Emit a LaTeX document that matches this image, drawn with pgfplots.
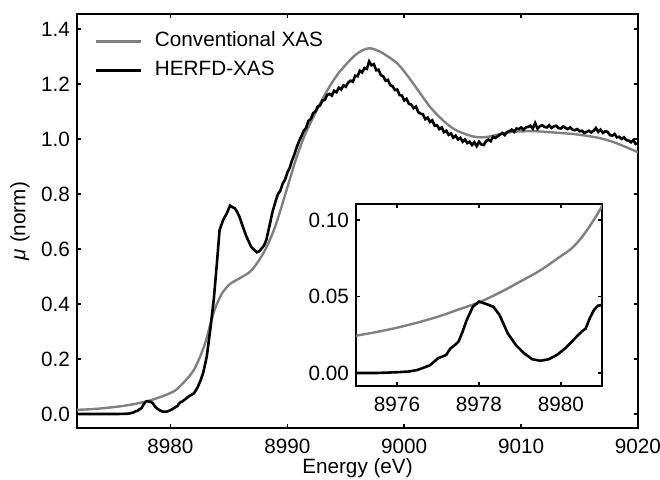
\documentclass[border=0pt]{standalone}
\usepackage{fontspec}
\setmainfont{Liberation Sans}
\usepackage{pgfplots}
\usepackage{pgfplotstable}
\pgfplotsset{compat=1.18}
\definecolor{convgray}{RGB}{128,128,128}

\pgfplotstableread{
E mu
8972.0 0.0150
8973.0 0.0170
8974.0 0.0200
8975.0 0.0244
8975.5 0.0268
8976.0 0.0296
8976.5 0.0330
8977.0 0.0368
8977.5 0.0415
8978.0 0.0462
8978.5 0.0525
8979.0 0.0597
8979.5 0.0672
8980.0 0.0765
8980.25 0.0812
8980.5 0.0885
8980.75 0.0980
8981.0 0.1090
8981.5 0.1320
8982.0 0.1600
8982.5 0.2050
8983.0 0.2620
8983.4 0.3250
8983.8 0.3820
8984.4 0.4380
8985.1 0.4730
8985.9 0.4930
8986.8 0.5170
8987.5 0.5540
8988.2 0.6050
8988.9 0.6750
8989.4 0.7400
8989.9 0.8100
8990.4 0.8800
8990.8 0.9350
8991.5 1.0150
8992.2 1.0780
8993.0 1.1450
8993.6 1.1900
8994.3 1.2350
8995.1 1.2750
8995.8 1.3050
8996.5 1.3240
8997.1 1.3300
8997.9 1.3180
8998.6 1.3000
8999.4 1.2750
9000.1 1.2400
9000.8 1.2000
9001.5 1.1580
9002.2 1.1170
9002.9 1.0850
9003.6 1.0570
9004.3 1.0350
9005.1 1.0200
9005.8 1.0100
9006.5 1.0060
9007.2 1.0080
9007.9 1.0150
9008.7 1.0220
9009.6 1.0270
9011.3 1.0280
9013.0 1.0230
9014.7 1.0170
9016.4 1.0060
9017.3 0.9970
9018.2 0.9840
9019.0 0.9700
9020.0 0.9520
}\conv

\pgfplotstableread{
E mu
8972.0 0.0000
8973.0 0.0000
8974.0 0.0000
8975.0 0.0000
8975.5 0.0000
8976.0 0.0005
8976.3 0.0010
8976.5 0.0020
8976.8 0.0050
8977.0 0.0096
8977.2 0.0118
8977.3 0.0160
8977.4 0.0180
8977.5 0.0205
8977.6 0.0270
8977.7 0.0346
8977.85 0.0433
8978.0 0.0467
8978.2 0.0449
8978.35 0.0433
8978.5 0.0380
8978.7 0.0260
8978.9 0.0183
8979.1 0.0129
8979.3 0.0090
8979.5 0.0080
8979.7 0.0090
8979.9 0.0118
8980.1 0.0160
8980.3 0.0215
8980.5 0.0270
8980.6 0.0290
8980.7 0.0357
8980.8 0.0410
8980.9 0.0440
8981.0 0.0444
8981.05 0.0470
8981.3 0.0550
8981.6 0.0650
8982.0 0.0750
8982.3 0.0950
8982.6 0.1250
8982.8 0.1500
8983.1 0.2080
8983.4 0.3050
8983.7 0.4150
8983.97 0.5480
8984.2 0.6690
8984.5 0.7050
8984.8 0.7280
8985.1 0.7580
8985.3 0.7520
8985.5 0.7480
8985.7 0.7350
8985.9 0.7170
8986.2 0.6800
8986.5 0.6450
8986.9 0.6080
8987.2 0.5950
8987.4 0.5880
8987.6 0.5920
8987.8 0.6020
8988.0 0.6120
8988.2 0.6330
8988.5 0.6900
8988.7 0.7300
8989.0 0.7750
8989.2 0.8000
8989.4 0.8120
8989.6 0.8380
8989.8 0.8520
8990.0 0.8780
8990.2 0.8950
8990.4 0.9220
8990.6 0.9440
8990.8 0.9700
8991.0 0.9920
8991.2 1.0100
8991.4 1.0300
8991.6 1.0400
8991.8 1.0660
8992.0 1.0720
8992.2 1.0940
8992.4 1.1000
8992.6 1.1180
8992.8 1.1220
8993.0 1.1400
8993.2 1.1420
8993.4 1.1600
8993.6 1.1640
8993.8 1.1580
8994.0 1.1750
8994.2 1.1700
8994.4 1.1870
8994.6 1.1800
8994.8 1.1950
8995.0 1.1900
8995.2 1.2050
8995.4 1.2120
8995.6 1.2080
8995.8 1.2300
8996.0 1.2280
8996.2 1.2480
8996.4 1.2420
8996.6 1.2580
8996.8 1.2550
8997.0 1.2820
8997.2 1.2680
8997.4 1.2720
8997.6 1.2500
8997.8 1.2520
8998.0 1.2320
8998.2 1.2280
8998.4 1.2120
8998.6 1.2150
8998.8 1.1960
8999.0 1.1920
8999.2 1.1780
8999.4 1.1800
8999.6 1.1600
8999.8 1.1580
9000.0 1.1400
9000.2 1.1460
9000.4 1.1280
9000.6 1.1250
9000.8 1.1120
9001.0 1.1180
9001.2 1.0980
9001.4 1.0920
9001.6 1.0900
9001.8 1.0720
9002.0 1.0780
9002.2 1.0620
9002.4 1.0680
9002.6 1.0480
9002.8 1.0500
9003.0 1.0360
9003.2 1.0420
9003.4 1.0250
9003.6 1.0300
9003.8 1.0150
9004.0 1.0200
9004.2 1.0050
9004.4 1.0120
9004.6 0.9980
9004.8 1.0040
9005.0 0.9900
9005.2 0.9980
9005.4 0.9850
9005.6 0.9900
9005.8 0.9780
9006.0 0.9880
9006.2 0.9740
9006.4 0.9900
9006.6 0.9800
9006.8 0.9780
9007.0 0.9920
9007.2 0.9980
9007.4 0.9920
9007.6 1.0080
9007.8 1.0040
9008.0 1.0100
9008.2 1.0160
9008.4 1.0220
9008.6 1.0140
9008.8 1.0260
9009.0 1.0280
9009.2 1.0340
9009.4 1.0260
9009.6 1.0380
9009.8 1.0360
9010.0 1.0420
9010.2 1.0340
9010.4 1.0420
9010.6 1.0440
9010.8 1.0480
9011.0 1.0380
9011.2 1.0580
9011.4 1.0380
9011.6 1.0460
9011.8 1.0500
9012.0 1.0440
9012.2 1.0420
9012.4 1.0500
9012.6 1.0400
9012.8 1.0460
9013.0 1.0480
9013.2 1.0400
9013.4 1.0380
9013.6 1.0460
9013.8 1.0400
9014.0 1.0360
9014.2 1.0420
9014.4 1.0340
9014.6 1.0320
9014.8 1.0360
9015.0 1.0280
9015.2 1.0300
9015.4 1.0220
9015.6 1.0260
9015.8 1.0300
9016.0 1.0240
9016.2 1.0300
9016.4 1.0400
9016.6 1.0260
9016.8 1.0340
9017.0 1.0220
9017.2 1.0280
9017.4 1.0260
9017.6 1.0140
9017.8 1.0120
9018.0 1.0180
9018.2 1.0060
9018.4 1.0080
9018.6 1.0000
9018.8 1.0060
9019.0 0.9960
9019.2 0.9940
9019.4 0.9880
9019.6 0.9960
9019.8 0.9820
9020.0 0.9850
}\herfd

\pgfplotsset{
  every axis/.append style={font=\fontsize{10.35}{12}\selectfont},
  myaxis/.style={
    scale only axis,
    axis line style={line width=1pt},
    tick align=inside,
    major tick length=2pt,
    tick style={line width=0.8pt, black},
    /pgf/number format/assume math mode=true,
    tick label style={font=\fontsize{10.35}{12}\selectfont},
    xticklabel style={yshift=-2pt},
  }
}

\begin{document}
\begin{tikzpicture}
\path[use as bounding box] (-38.5pt,-25.5pt) rectangle (291.5pt,214pt);
\begin{axis}[
  myaxis,
  at={(0pt,0pt)}, anchor=south west,
  width=280.5pt, height=207pt,
  xmin=8972, xmax=9020, ymin=-0.051, ymax=1.4545,
  xtick={8980,8990,9000,9010,9020},
  ytick={0,0.2,0.4,0.6,0.8,1.0,1.2,1.4},
  xticklabel style={/pgf/number format/.cd, 1000 sep={}},
  yticklabel style={/pgf/number format/.cd, fixed, fixed zerofill, precision=1},
  xlabel={Energy (eV)},
  ylabel={{\itshape μ} (norm)},
  xlabel style={at={([yshift=-22.8pt]axis description cs:0.5,0)}, anchor=base},
  ylabel style={at={([xshift=-28.5pt]axis description cs:0,0.5)}, anchor=center},
  legend style={draw=none, fill=none, at={(0,1)}, anchor=north west,
    xshift=8.5pt, yshift=-8.5pt, inner sep=0pt,
    nodes={inner sep=0pt, text height=7.5pt, text depth=2.5pt},
    row sep=4.6pt, column sep=6.5pt,
    font=\fontsize{10.35}{12}\selectfont},
  legend cell align=left,
  legend image code/.code={\draw[#1] (0pt,0pt) -- (22.5pt,0pt);},
]
\addplot[convgray, line width=1.2pt, smooth] table[x=E, y=mu] {\conv};
\addlegendentry{Conventional XAS}
\addplot[black, line width=1.3pt] table[x=E, y=mu] {\herfd};
\addlegendentry{HERFD-XAS}
\end{axis}
\begin{axis}[
  myaxis,
  at={(139.5pt,21pt)}, anchor=south west,
  width=123pt, height=91pt,
  axis background/.style={fill=white},
  xmin=8975, xmax=8981, ymin=-0.0085, ymax=0.1105,
  xtick={8976,8978,8980},
  ytick={0,0.05,0.10},
  xticklabel style={/pgf/number format/.cd, 1000 sep={}},
  yticklabel style={/pgf/number format/.cd, fixed, fixed zerofill, precision=2},
]
\addplot[convgray, line width=1.2pt, smooth] table[x=E, y=mu] {\conv};
\addplot[black, line width=1.3pt] table[x=E, y=mu] {\herfd};
\end{axis}
\end{tikzpicture}
\end{document}
